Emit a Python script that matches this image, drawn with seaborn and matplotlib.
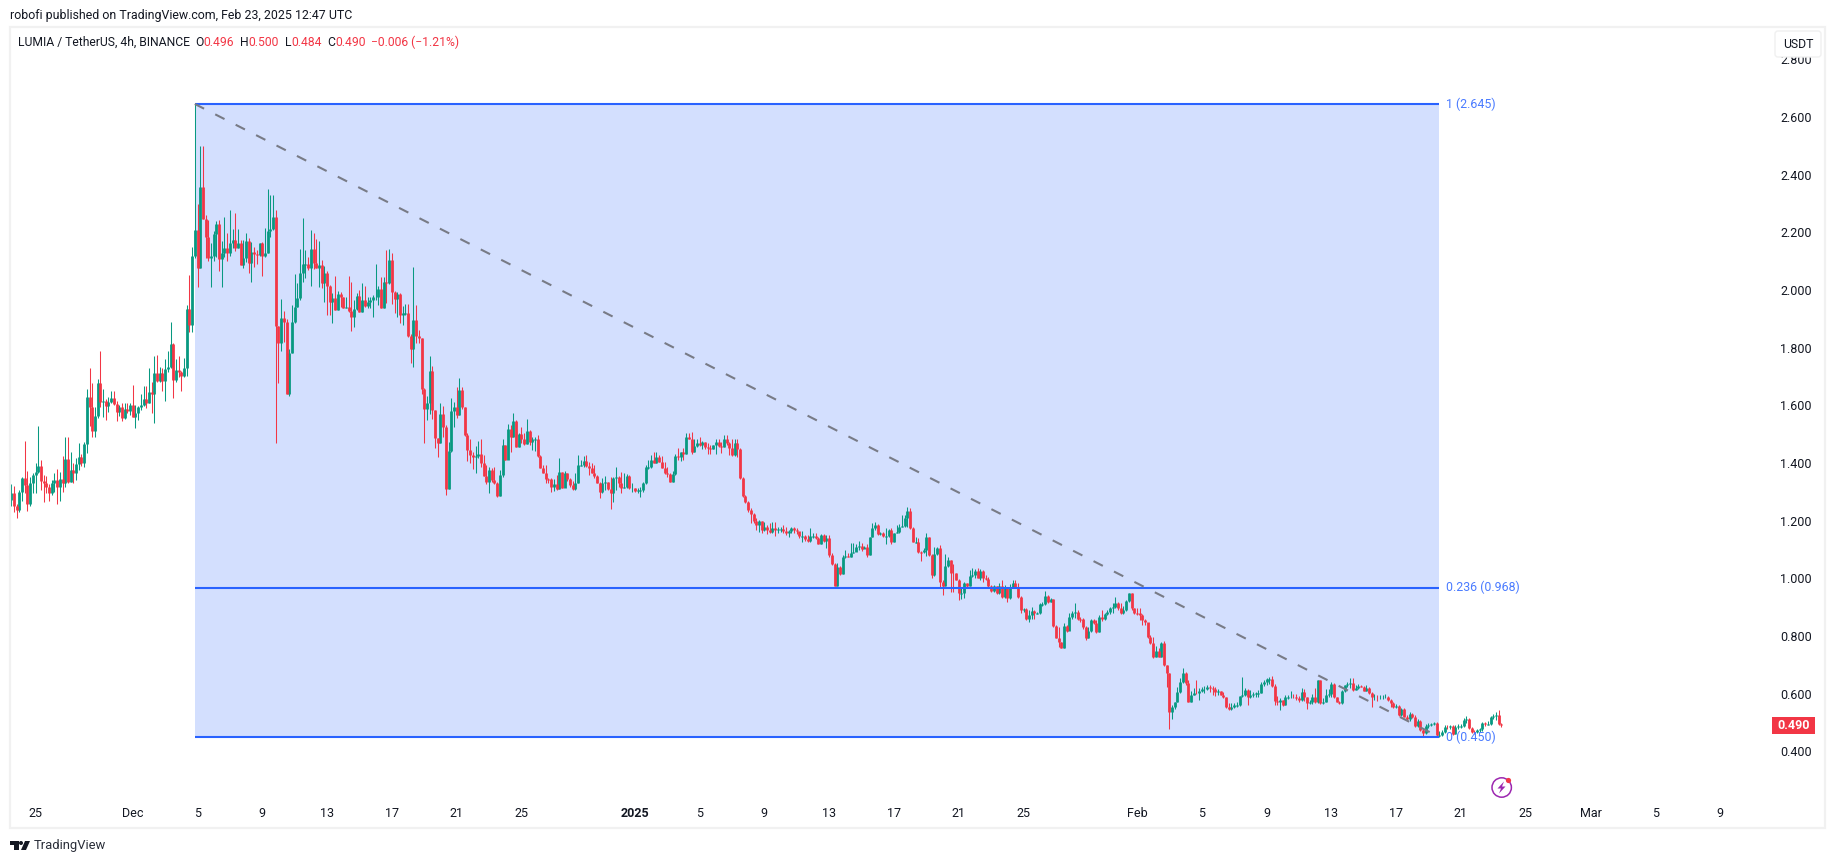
import numpy as np
import pandas as pd
import matplotlib
matplotlib.use("Agg")
import matplotlib.pyplot as plt
from matplotlib.patches import Circle, FancyBboxPatch, Polygon, Rectangle
import seaborn as sns

# 4h candles
first_open = 1.271
closes = [
    1.295,1.252,1.237,1.298,1.347,1.323,1.258,1.329,1.360,1.370,
    1.389,1.338,1.329,1.318,1.295,1.332,1.341,1.318,1.343,1.332,
    1.414,1.335,1.375,1.366,1.395,1.421,1.399,1.466,1.629,1.593,
    1.511,1.563,1.677,1.612,1.615,1.599,1.612,1.624,1.603,1.578,
    1.593,1.557,1.587,1.581,1.600,1.560,1.574,1.593,1.600,1.623,
    1.607,1.646,1.639,1.712,1.685,1.712,1.685,1.725,1.732,1.812,
    1.688,1.722,1.716,1.701,1.730,1.934,1.878,2.118,2.208,2.077,
    2.356,2.246,2.182,2.112,2.118,2.194,2.229,2.107,2.129,2.144,
    2.129,2.162,2.175,2.144,2.164,2.086,2.110,2.169,2.095,2.131,
    2.125,2.120,2.162,2.118,2.129,2.204,2.211,2.254,1.876,1.815,
    1.903,1.889,1.638,1.780,1.889,1.940,1.971,2.058,2.090,2.090,
    2.075,2.142,2.095,2.077,2.086,2.025,2.058,2.015,1.959,1.971,
    1.930,1.985,1.977,1.938,1.942,1.928,1.905,1.933,1.979,1.925,
    1.965,1.944,1.960,1.965,1.974,1.977,2.002,1.938,2.027,2.023,
    2.104,1.994,1.968,1.985,1.913,1.919,1.921,1.840,1.796,1.896,
    1.842,1.832,1.656,1.587,1.607,1.719,1.584,1.488,1.471,1.570,
    1.526,1.310,1.441,1.580,1.593,1.566,1.653,1.593,1.496,1.445,
    1.427,1.422,1.424,1.433,1.401,1.356,1.335,1.375,1.341,1.332,
    1.286,1.358,1.462,1.412,1.518,1.491,1.547,1.456,1.500,1.485,
    1.467,1.511,1.474,1.482,1.483,1.424,1.384,1.366,1.344,1.343,
    1.318,1.327,1.311,1.369,1.315,1.364,1.344,1.323,1.310,1.332,
    1.393,1.394,1.407,1.391,1.381,1.366,1.356,1.332,1.299,1.332,
    1.333,1.311,1.295,1.347,1.350,1.332,1.314,1.317,1.355,1.314,
    1.315,1.304,1.306,1.306,1.329,1.385,1.385,1.412,1.401,1.422,
    1.404,1.384,1.364,1.362,1.335,1.362,1.424,1.422,1.437,1.433,
    1.489,1.485,1.437,1.460,1.471,1.462,1.474,1.454,1.453,1.448,
    1.461,1.474,1.460,1.456,1.482,1.468,1.451,1.428,1.468,1.447,
    1.349,1.285,1.266,1.237,1.222,1.200,1.185,1.200,1.167,1.179,
    1.167,1.160,1.173,1.167,1.170,1.171,1.164,1.159,1.164,1.173,
    1.167,1.165,1.147,1.148,1.135,1.131,1.147,1.148,1.139,1.119,
    1.150,1.131,1.139,1.081,1.050,0.975,1.040,1.015,1.073,1.077,
    1.075,1.089,1.092,1.110,1.114,1.103,1.110,1.081,1.142,1.173,
    1.185,1.154,1.156,1.147,1.148,1.167,1.127,1.156,1.162,1.179,
    1.181,1.211,1.235,1.173,1.127,1.127,1.092,1.090,1.097,1.144,
    1.081,1.011,1.083,1.104,0.986,0.975,1.043,1.063,1.020,1.017,
    0.996,0.948,0.950,0.983,0.975,1.008,1.011,1.025,1.003,1.026,
    1.003,0.998,0.975,0.957,0.973,0.950,0.973,0.936,0.971,0.931,
    0.971,0.983,0.968,0.934,0.890,0.894,0.859,0.873,0.888,0.879,
    0.879,0.911,0.911,0.939,0.919,0.927,0.835,0.795,0.780,0.760,
    0.835,0.818,0.867,0.881,0.883,0.859,0.858,0.830,0.792,0.818,
    0.855,0.844,0.815,0.867,0.858,0.876,0.884,0.896,0.902,0.915,
    0.896,0.879,0.890,0.922,0.948,0.896,0.881,0.879,0.873,0.855,
    0.850,0.798,0.775,0.726,0.748,0.729,0.775,0.698,0.671,0.535,
    0.553,0.573,0.607,0.640,0.671,0.636,0.573,0.596,0.604,0.602,
    0.610,0.615,0.618,0.624,0.619,0.617,0.607,0.609,0.596,0.588,
    0.553,0.546,0.553,0.561,0.561,0.592,0.596,0.613,0.587,0.596,
    0.599,0.602,0.602,0.634,0.639,0.651,0.652,0.627,0.575,0.573,
    0.578,0.561,0.588,0.588,0.590,0.588,0.585,0.580,0.607,0.587,
    0.567,0.572,0.590,0.573,0.646,0.567,0.573,0.596,0.599,0.634,
    0.588,0.573,0.567,0.610,0.630,0.634,0.636,0.613,0.619,0.627,
    0.625,0.611,0.619,0.602,0.588,0.590,0.589,0.590,0.590,0.590,
    0.578,0.567,0.555,0.559,0.526,0.546,0.521,0.511,0.530,0.518,
    0.489,0.506,0.474,0.463,0.488,0.492,0.495,0.500,0.457,0.458,
    0.469,0.486,0.483,0.487,0.461,0.486,0.488,0.489,0.509,0.511,
    0.480,0.469,0.466,0.474,0.477,0.498,0.495,0.495,0.518,0.523,
    0.525,0.496,0.490,
]
highs = [
    1.327,1.320,1.258,1.306,1.350,1.476,1.372,1.352,1.364,1.399,
    1.528,1.410,1.358,1.355,1.327,1.341,1.364,1.379,1.369,1.424,
    1.490,1.490,1.438,1.399,1.418,1.469,1.433,1.474,1.656,1.730,
    1.678,1.593,1.690,1.787,1.656,1.622,1.630,1.649,1.649,1.615,
    1.601,1.609,1.607,1.609,1.607,1.670,1.601,1.597,1.641,1.667,
    1.667,1.730,1.682,1.771,1.774,1.734,1.730,1.759,1.789,1.888,
    1.815,1.760,1.771,1.720,1.765,1.948,2.052,2.150,2.645,2.298,
    2.499,2.499,2.260,2.243,2.162,2.204,2.239,2.243,2.170,2.252,
    2.196,2.276,2.210,2.266,2.210,2.173,2.173,2.196,2.179,2.167,
    2.148,2.138,2.162,2.165,2.216,2.350,2.331,2.329,2.277,1.876,
    1.968,1.927,1.901,1.794,1.948,2.055,2.025,2.142,2.249,2.138,
    2.115,2.208,2.196,2.178,2.170,2.104,2.083,2.066,2.019,1.988,
    2.048,1.997,1.994,1.977,1.977,2.048,2.029,1.965,1.988,2.000,
    2.023,2.015,1.977,1.977,1.982,2.090,2.015,2.046,2.046,2.138,
    2.142,2.129,1.997,1.994,1.988,1.944,1.951,1.951,1.849,2.081,
    1.948,1.861,1.832,1.659,1.632,1.771,1.736,1.584,1.488,1.607,
    1.597,1.532,1.474,1.627,1.612,1.662,1.695,1.664,1.593,1.503,
    1.482,1.439,1.459,1.477,1.482,1.427,1.393,1.387,1.381,1.385,
    1.335,1.375,1.483,1.462,1.535,1.532,1.575,1.549,1.505,1.526,
    1.503,1.552,1.514,1.489,1.491,1.497,1.427,1.393,1.393,1.349,
    1.347,1.343,1.358,1.416,1.370,1.372,1.366,1.347,1.338,1.367,
    1.428,1.410,1.424,1.428,1.404,1.401,1.393,1.358,1.335,1.347,
    1.356,1.335,1.352,1.352,1.385,1.355,1.370,1.364,1.362,1.358,
    1.329,1.315,1.312,1.318,1.335,1.393,1.410,1.428,1.437,1.437,
    1.428,1.424,1.404,1.385,1.366,1.373,1.430,1.451,1.439,1.451,
    1.503,1.503,1.506,1.482,1.482,1.489,1.477,1.474,1.468,1.462,
    1.462,1.485,1.485,1.474,1.497,1.497,1.474,1.485,1.485,1.485,
    1.451,1.352,1.289,1.268,1.243,1.225,1.211,1.202,1.200,1.196,
    1.185,1.193,1.196,1.196,1.179,1.179,1.185,1.179,1.167,1.177,
    1.177,1.173,1.156,1.164,1.150,1.150,1.173,1.158,1.156,1.144,
    1.154,1.154,1.150,1.150,1.087,1.052,1.052,1.043,1.081,1.098,
    1.089,1.121,1.124,1.118,1.131,1.121,1.113,1.118,1.144,1.193,
    1.195,1.188,1.162,1.162,1.173,1.170,1.173,1.158,1.185,1.188,
    1.220,1.220,1.246,1.243,1.179,1.142,1.139,1.096,1.104,1.156,
    1.144,1.084,1.110,1.110,1.115,0.994,1.083,1.073,1.063,1.050,
    1.020,0.998,0.965,0.988,0.983,1.029,1.035,1.031,1.035,1.031,
    1.029,1.012,1.006,0.977,0.977,0.974,0.983,0.996,0.977,0.971,
    0.980,0.994,0.994,0.983,0.939,0.899,0.896,0.890,0.902,0.892,
    0.884,0.915,0.919,0.956,0.942,0.933,0.928,0.838,0.832,0.780,
    0.844,0.838,0.881,0.888,0.915,0.890,0.867,0.861,0.835,0.832,
    0.859,0.858,0.855,0.873,0.892,0.881,0.890,0.902,0.913,0.934,
    0.918,0.913,0.904,0.925,0.950,0.948,0.899,0.896,0.896,0.876,
    0.859,0.844,0.803,0.796,0.766,0.758,0.781,0.783,0.700,0.673,
    0.561,0.573,0.622,0.654,0.688,0.677,0.646,0.610,0.619,0.648,
    0.619,0.625,0.627,0.631,0.631,0.627,0.622,0.616,0.610,0.607,
    0.590,0.567,0.569,0.567,0.573,0.592,0.657,0.619,0.616,0.613,
    0.607,0.607,0.613,0.639,0.648,0.654,0.657,0.662,0.633,0.592,
    0.584,0.578,0.596,0.596,0.611,0.600,0.599,0.592,0.619,0.618,
    0.590,0.580,0.600,0.619,0.648,0.648,0.585,0.615,0.615,0.639,
    0.638,0.590,0.575,0.612,0.632,0.640,0.654,0.654,0.630,0.635,
    0.632,0.628,0.632,0.625,0.605,0.600,0.597,0.597,0.596,0.598,
    0.592,0.582,0.570,0.565,0.562,0.552,0.550,0.525,0.535,0.534,
    0.525,0.512,0.510,0.478,0.495,0.498,0.500,0.503,0.502,0.470,
    0.475,0.490,0.492,0.492,0.490,0.490,0.495,0.496,0.515,0.524,
    0.515,0.485,0.473,0.478,0.482,0.502,0.501,0.505,0.522,0.530,
    0.535,0.544,0.500,
]
lows = [
    1.251,1.231,1.210,1.231,1.268,1.295,1.234,1.251,1.295,1.295,
    1.364,1.306,1.266,1.295,1.269,1.289,1.300,1.258,1.268,1.300,
    1.318,1.329,1.335,1.332,1.341,1.375,1.389,1.385,1.436,1.528,
    1.491,1.491,1.555,1.593,1.558,1.549,1.578,1.607,1.601,1.545,
    1.563,1.547,1.551,1.572,1.566,1.558,1.522,1.549,1.584,1.597,
    1.592,1.607,1.572,1.540,1.682,1.682,1.649,1.616,1.717,1.728,
    1.626,1.682,1.699,1.649,1.699,1.701,1.855,1.855,2.110,2.011,
    2.077,2.246,2.110,2.100,2.011,2.100,2.115,2.066,2.011,2.115,
    2.101,2.118,2.144,2.136,2.144,2.086,2.077,2.098,2.060,2.029,
    2.081,2.090,2.118,2.049,2.115,2.129,2.185,2.208,1.470,1.678,
    1.789,1.818,1.638,1.632,1.780,1.884,1.942,1.965,2.029,2.040,
    2.069,2.014,2.073,2.075,2.011,2.008,1.959,1.913,1.913,1.884,
    1.930,1.930,1.942,1.936,1.936,1.925,1.859,1.873,1.930,1.925,
    1.922,1.942,1.936,1.936,1.905,1.965,1.948,1.936,1.936,1.954,
    2.021,1.951,1.919,1.907,1.884,1.878,1.913,1.838,1.748,1.734,
    1.815,1.815,1.641,1.470,1.549,1.570,1.551,1.453,1.422,1.470,
    1.491,1.289,1.310,1.439,1.526,1.557,1.566,1.589,1.493,1.408,
    1.401,1.378,1.367,1.419,1.385,1.356,1.326,1.297,1.335,1.327,
    1.283,1.286,1.352,1.410,1.416,1.439,1.491,1.454,1.454,1.468,
    1.464,1.466,1.462,1.445,1.443,1.422,1.381,1.364,1.332,1.332,
    1.300,1.303,1.306,1.310,1.312,1.318,1.338,1.318,1.306,1.308,
    1.329,1.389,1.385,1.387,1.358,1.364,1.347,1.329,1.277,1.295,
    1.306,1.308,1.240,1.266,1.308,1.318,1.295,1.312,1.314,1.311,
    1.300,1.300,1.295,1.283,1.300,1.327,1.378,1.381,1.399,1.399,
    1.402,1.381,1.362,1.352,1.333,1.334,1.358,1.410,1.408,1.410,
    1.431,1.482,1.433,1.437,1.456,1.459,1.447,1.449,1.433,1.431,
    1.447,1.431,1.456,1.436,1.456,1.462,1.428,1.424,1.424,1.422,
    1.344,1.283,1.263,1.231,1.191,1.191,1.167,1.160,1.156,1.164,
    1.153,1.156,1.156,1.147,1.156,1.160,1.158,1.150,1.144,1.156,
    1.156,1.153,1.139,1.127,1.131,1.127,1.127,1.139,1.135,1.118,
    1.118,1.127,1.104,1.075,1.046,0.973,0.975,1.011,1.015,1.069,
    1.073,1.073,1.087,1.095,1.100,1.096,1.104,1.075,1.081,1.142,
    1.168,1.150,1.150,1.144,1.119,1.144,1.119,1.127,1.156,1.158,
    1.177,1.179,1.177,1.170,1.125,1.124,1.089,1.061,1.089,1.077,
    1.079,1.003,1.008,1.081,0.965,0.942,0.975,1.040,0.954,0.954,
    0.994,0.925,0.927,0.931,0.971,0.975,1.006,1.003,1.000,0.996,
    0.988,0.994,0.971,0.954,0.954,0.946,0.946,0.933,0.933,0.919,
    0.927,0.965,0.965,0.931,0.881,0.884,0.855,0.850,0.859,0.859,
    0.876,0.876,0.904,0.907,0.915,0.919,0.832,0.792,0.763,0.757,
    0.760,0.815,0.821,0.859,0.861,0.855,0.850,0.826,0.788,0.792,
    0.815,0.842,0.809,0.813,0.853,0.855,0.873,0.875,0.881,0.896,
    0.892,0.875,0.876,0.888,0.919,0.892,0.876,0.873,0.855,0.838,
    0.838,0.795,0.774,0.723,0.726,0.726,0.726,0.696,0.625,0.479,
    0.511,0.546,0.573,0.604,0.636,0.631,0.570,0.573,0.595,0.599,
    0.578,0.607,0.604,0.613,0.607,0.594,0.592,0.595,0.594,0.584,
    0.551,0.544,0.544,0.551,0.555,0.558,0.590,0.592,0.561,0.584,
    0.588,0.590,0.590,0.602,0.627,0.631,0.633,0.625,0.561,0.561,
    0.542,0.558,0.560,0.581,0.584,0.585,0.578,0.572,0.575,0.575,
    0.547,0.565,0.565,0.568,0.567,0.565,0.563,0.570,0.590,0.588,
    0.585,0.570,0.565,0.565,0.605,0.622,0.620,0.610,0.612,0.617,
    0.622,0.608,0.608,0.600,0.555,0.580,0.575,0.582,0.583,0.585,
    0.575,0.555,0.550,0.550,0.524,0.524,0.518,0.506,0.506,0.515,
    0.485,0.485,0.470,0.451,0.462,0.482,0.487,0.492,0.452,0.450,
    0.455,0.465,0.478,0.478,0.458,0.459,0.478,0.482,0.485,0.500,
    0.478,0.465,0.462,0.463,0.468,0.472,0.488,0.490,0.492,0.512,
    0.510,0.492,0.484,
]

price_ticks = [0.4, 0.6, 0.8, 1.0, 1.2, 1.4, 1.6, 1.8, 2.0, 2.2, 2.4, 2.6, 2.8]
date_ticks = ["2024-11-25", "2024-12-01", "2024-12-05", "2024-12-09", "2024-12-13",
              "2024-12-17", "2024-12-21", "2024-12-25", "2025-01-01", "2025-01-05",
              "2025-01-09", "2025-01-13", "2025-01-17", "2025-01-21", "2025-01-25",
              "2025-02-01", "2025-02-05", "2025-02-09", "2025-02-13", "2025-02-17",
              "2025-02-21", "2025-02-25", "2025-03-01", "2025-03-05", "2025-03-09"]
date_labels = ["25", "Dec", "5", "9", "13", "17", "21", "25", "2025", "5", "9", "13", "17",
               "21", "25", "Feb", "5", "9", "13", "17", "21", "25", "Mar", "5", "9"]

fib_levels = [1, 0.236, 0]
fib_prices = [2.645, 0.968, 0.450]
fib_start = pd.Timestamp("2024-12-04 20:00")
fib_end = pd.Timestamp("2025-02-19 16:00")

UP = "#089981"
DOWN = "#f23645"
BLUE = "#2962ff"
DARK = "#131722"

sns.set_theme(style="white")
plt.rcParams["font.family"] = ["Roboto", "DejaVu Sans"]

W, H = 1835, 863
fig = plt.figure(figsize=(W / 100, H / 100), dpi=100, facecolor="white")
# pane runs from px 10 to 1753 across and px 27 to 797 down
ax = fig.add_axes([10 / W, 1 - 797 / H, (1753 - 10) / W, (797 - 27) / H])
ax.set_facecolor("white")

times = pd.date_range("2024-11-23 12:00", periods=len(closes), freq="4h")
opens = [first_open] + closes[:-1]
df = pd.DataFrame({"bar": range(len(closes)), "time": times, "open": opens,
                   "high": highs, "low": lows, "close": closes})
df["side"] = np.where(df["close"] >= df["open"], "up", "down")
palette = {"up": UP, "down": DOWN}

# thin wick and thick body per bar, one line each
wicks = df.melt(id_vars=["bar", "time", "side"], value_vars=["high", "low"], value_name="price")
df["top"] = df[["open", "close"]].max(axis=1)
df["bottom"] = np.minimum(df[["open", "close"]].min(axis=1), df["top"] - 0.003)
bodies = df.melt(id_vars=["bar", "time", "side"], value_vars=["top", "bottom"], value_name="price")

ax.fill_between([fib_start, fib_end], fib_prices[2], fib_prices[0], color="#d3dffe", lw=0, zorder=1)
sns.lineplot(data=wicks, x="time", y="price", hue="side", units="bar", estimator=None,
             palette=palette, linewidth=0.75, solid_capstyle="butt", sort=False,
             legend=False, ax=ax, zorder=2)
sns.lineplot(data=bodies, x="time", y="price", hue="side", units="bar", estimator=None,
             palette=palette, linewidth=2.0, solid_capstyle="butt", sort=False,
             legend=False, ax=ax, zorder=2.5)

ax.hlines(fib_prices, fib_start, fib_end, color=BLUE, lw=1.5, zorder=3)
ax.plot([fib_start, fib_end], [fib_prices[0], fib_prices[2]], color="#787b86", lw=1.5,
        linestyle=(0, (5, 6)), zorder=3)
for lev, pr in zip(fib_levels, fib_prices):
    ax.annotate(f"{lev} ({pr:.3f})", (fib_end, pr), xytext=(5, 0), textcoords="offset points",
                va="center", ha="left", fontsize=8.9, color="#4a7bff", zorder=4)

ax.set_xlim(pd.Timestamp("2024-12-05") - pd.Timedelta(days=187.5 / 16.197),
            pd.Timestamp("2024-12-05") + pd.Timedelta(days=1555.5 / 16.197))
ax.set_ylim(0.45 - 60 / 288.4, 0.45 + 710 / 288.4)
ax.set_xlabel("")
ax.set_ylabel("")
ax.yaxis.tick_right()
ax.set_yticks(price_ticks, [f"{p:.3f}" for p in price_ticks])
ax.set_xticks(pd.to_datetime(date_ticks), date_labels)
ax.tick_params(axis="y", length=0, pad=19.5, labelsize=9, labelcolor=DARK)
ax.tick_params(axis="x", length=0, pad=7.5, labelsize=9, labelcolor=DARK)
for t in ax.get_xticklabels():
    if t.get_text() == "2025":
        t.set_fontweight("bold")
sns.despine(ax=ax, left=True, bottom=True, top=True, right=True)
ax.grid(False)

# page furniture, placed in pixels on a full-figure layer
ov = fig.add_axes([0, 0, 1, 1], zorder=5)
ov.set_xlim(0, W)
ov.set_ylim(H, 0)
ov.axis("off")
ov.add_patch(Rectangle((10, 27), 1815, 801, fill=False, ec="#f1f1f1", lw=1.6))
ov.text(10, 15, "robofi published on TradingView.com, Feb 23, 2025 12:47 UTC", fontsize=8.9,
        color=DARK, va="center")
ov.text(18, 42, "LUMIA / TetherUS, 4h, BINANCE", fontsize=8.7, color=DARK, va="center")
for xl, lab, xv, val in [(195, "O", 203, "0.496"), (240, "H", 248, "0.500"),
                         (285, "L", 291, "0.484"), (327, "C", 335, "0.490")]:
    ov.text(xl, 42, lab, fontsize=8.7, color=DARK, va="center")
    ov.text(xv, 42, val, fontsize=8.7, color=DOWN, va="center")
ov.text(371, 42, "\u22120.006 (\u22121.21%)", fontsize=8.7, color=DOWN, va="center")

ov.add_patch(FancyBboxPatch((1778, 34), 40, 20, boxstyle="round,pad=3", fc="white",
                            ec="#f0f0f0", lw=1))
ov.text(1798, 44, "USDT", fontsize=8.8, color=DARK, ha="center", va="center")

ov.add_patch(Rectangle((1772, 717), 43, 17, fc=DOWN, ec="none"))
ov.text(1793.5, 725.5, "0.490", fontsize=9, color="white", ha="center", va="center",
        fontweight="bold")

# lightning badge
ov.add_patch(Circle((1501.7, 787.5), 9.7, fill=False, ec="#9c27b0", lw=1.1))
ov.add_patch(Polygon([(1504, 781.5), (1497.5, 788.5), (1501, 788.5), (1499, 793.5), (1505.5, 786.5),
                      (1502, 786.5)], fc="#9c27b0", ec="none"))
ov.add_patch(Circle((1508.5, 780.5), 2.6, fc=DOWN, ec="none"))

# TradingView logo
ov.add_patch(Polygon([(10, 841), (18.5, 841), (18.5, 850), (14, 850), (14, 845), (10, 845)],
                     fc=DARK, ec="none"))
ov.add_patch(Circle((21, 843), 2, fc=DARK, ec="none"))
ov.add_patch(Polygon([(25, 841), (30, 841), (26, 850), (21, 850)], fc=DARK, ec="none"))
ov.text(34, 845, "TradingView", fontsize=9.4, color="#2a2e39", va="center")

fig.savefig("out.png", dpi=100, facecolor="white")
